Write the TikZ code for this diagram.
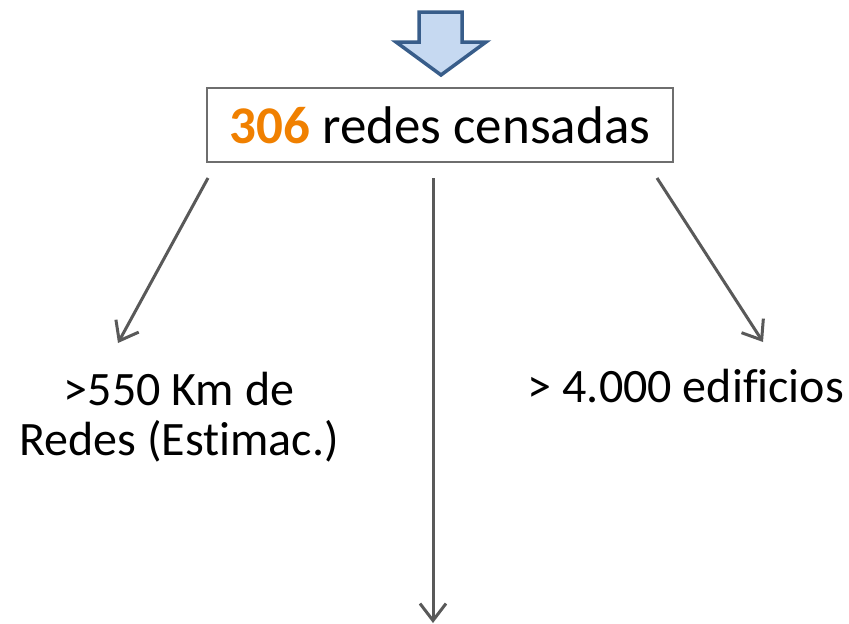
\documentclass[tikz,border=0pt]{standalone}
\usepackage{fontspec}
\setmainfont{Carlito}[Ligatures=NoCommon,RawFeature={-liga;-clig;-dlig}]
\usetikzlibrary{arrows.meta}
\definecolor{arrowgray}{RGB}{89,89,89}
\definecolor{boxgray}{RGB}{110,110,110}
\definecolor{numorange}{RGB}{240,128,0}
\definecolor{blockfill}{RGB}{198,217,241}
\definecolor{blockdraw}{RGB}{56,93,138}
\tikzset{
  connector/.style={draw=arrowgray, line width=3pt, -{Straight Barb[length=17pt,width=26pt]}},
  mainbox/.style={draw=boxgray, line width=2.2pt, minimum width=466pt, minimum height=74pt, inner sep=0pt,
                  font=\fontsize{53}{60}\selectfont},
  label/.style={align=center, inner sep=0pt, font=\fontsize{48}{50}\selectfont},
}
\begin{document}
\begin{tikzpicture}[x=1pt,y=-1pt]
\useasboundingbox (0,0) rectangle (849,624);
% block arrow
\draw[blockdraw, fill=blockfill, line width=3.5pt, line join=miter]
  (419,12) -- (462,12) -- (462,42) -- (486,42) -- (441,75) -- (396,42) -- (419,42) -- cycle;
% main box
\node[mainbox] (box) at (440,125) {\textbf{\color{numorange}306} redes censadas};
% start points of connectors
\coordinate (sL) at (208,178);
\coordinate (sM) at (433,178);
\coordinate (sR) at (657,178);
% labels
\node[label, anchor=base] (left) at (179,455) {>550 Km de\\Redes (Est\kern0pt imac.)};
\node[label, anchor=base] (right) at (686,402) {> 4.000 edif\kern0pt icios};
% end points
\coordinate (eL) at (118,343);
\coordinate (eM) at (433,623);
\coordinate (eR) at (763,342);
\draw[connector] (sL) -- (eL);
\draw[connector] (sM) -- (eM);
\draw[connector] (sR) -- (eR);
\end{tikzpicture}
\end{document}
